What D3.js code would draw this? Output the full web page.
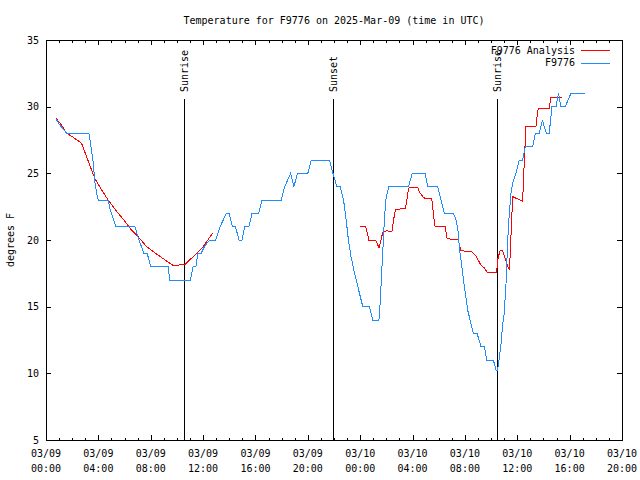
<!DOCTYPE html>
<html><head><meta charset="utf-8">
<script src="https://cdn.jsdelivr.net/npm/d3@7"></script>
<style>
body{margin:0;background:#fff;}
svg text{font-family:"DejaVu Sans Mono",monospace;font-size:10px;fill:#000;}
</style></head>
<body><svg id="c" width="640" height="480"></svg>
<script>
const title = "Temperature for F9776 on 2025-Mar-09 (time in UTC)";
const yLabel = "degrees F";
const seriesNames = ["F9776 Analysis", "F9776"];
const seriesColors = ["#ff0000", "#1e8cff"];
// hours since 2025-03-09 00:00 UTC
const obsHours = [0.76,1.0,1.58,3.28,3.41,3.61,3.74,3.95,4.0,4.75,4.9,5.1,5.34,6.79,7.1,7.48,7.73,8.0,9.33,9.46,11.03,11.24,11.45,11.6,11.85,12.1,12.5,12.97,13.3,13.78,13.98,14.24,14.47,14.75,14.98,15.18,15.5,15.74,16.25,16.5,17.98,18.23,18.69,18.94,19.2,20.0,20.26,21.66,21.92,22.22,22.48,22.73,22.93,23.1,23.3,23.57,23.82,24.2,24.71,24.97,25.43,25.48,25.6,25.73,25.86,25.99,26.19,27.7,27.97,28.96,29.16,29.92,30.18,30.43,31.12,31.33,31.5,31.58,31.7,31.96,32.21,32.65,32.93,33.23,33.49,33.67,34.17,34.38,34.5,34.74,34.87,35.0,35.14,35.27,35.39,35.52,35.65,35.9,36.16,36.41,36.61,37.17,37.38,37.68,37.93,38.03,38.24,38.44,38.65,38.96,39.15,39.33,39.66,40.1,41.17];
const obsTemps = [29.1,28.7,28,28,27.2,25.8,24.3,23.1,23,23,22.3,21.7,21,21,20,19,19,18,18,17,17,18,18,19,19,19.5,20,20,21,22,22,21,21,20,20,21,21,22,22,23,23,24,25,24,25,25,26,26,25,24,24,23,21.5,20,18.75,17.5,16.5,15,15,14,14,14.5,16.75,19.25,21.75,23.25,24,24,25,25,24,24,23,22,22,21.5,20.5,19.3,18.5,16.5,14.75,13,13,12,12,11,11,10.25,10.25,12,13.5,14.5,16.75,20,22,23.5,24.25,25,26,26,27,27,28,28,29,28.6,28,28,30,30,31,30,30,31,31];
const anaHours = [0.76,1.2,1.58,2.08,2.72,3.1,3.48,3.74,4.25,4.75,5.52,6.03,6.53,7.04,7.68,8.31,8.95,9.71,10.09,10.3,10.65,11.24,12.0,12.76,
  18.0,
  23.95,24.41,24.55,24.66,25.17,25.3,25.43,25.6,25.73,26.04,26.42,26.55,26.7,27.46,27.56,27.71,28.4,28.53,28.78,28.99,29.47,29.7,30.49,30.64,31.48,31.7,32.54,32.85,33.23,33.49,33.69,34.43,34.5,34.68,34.88,35.14,35.39,35.45,35.65,36.41,36.45,36.53,36.66,37.43,37.55,37.63,38.44,38.57,39.38];
const anaTemps = [29.13,28.6,28.0,27.7,27.25,26.25,25.25,24.6,23.75,23,22,21.4,20.75,20.25,19.5,19.05,18.6,18.1,18.1,18.2,18.2,18.75,19.5,20.55,
  null,
  21,21,20.5,20,20,19.75,19.4,20.05,20.6,20.7,20.6,21.5,22.3,22.35,23,23.9,23.95,23.6,23.25,23.1,23.1,21.05,21,20.1,20,19.2,19.1,18.8,18.1,17.9,17.6,17.57,18.5,19.2,19.2,18.4,17.75,18.75,23.25,22.9,23.9,25.75,28.5,28.55,29.6,29.9,29.9,30.7,30.7];
const sunLabels = ["Sunrise","Sunset","Sunrise"];
const sunHours = [10.55,21.92,34.43];
const yTicks = [5,10,15,20,25,30,35];
const xTickDates = ["03/09","03/09","03/09","03/09","03/09","03/09","03/10","03/10","03/10","03/10","03/10","03/10"];
const xTickTimes = ["00:00","04:00","08:00","12:00","16:00","20:00","00:00","04:00","08:00","12:00","16:00","20:00"];

const t0 = Date.UTC(2025,2,9,0,0);
const hr = h => new Date(t0 + h*3600000);
const L=46,R=622,T=40,B=440;
const svg = d3.select("#c");
const x = d3.scaleUtc().domain([hr(0),hr(44)]).range([L,R]);
const y = d3.scaleLinear().domain([5,35]).range([B,T]);

svg.append("text").attr("x",(L+R)/2).attr("y",24).attr("text-anchor","middle").text(title);
svg.append("text").attr("transform",`translate(14,${(T+B)/2}) rotate(-90)`).attr("text-anchor","middle").text(yLabel);

const majorX = xTickTimes.map((d,i)=>hr(i*4));
const minorX = d3.range(0,45).map(hr);
const g = svg.append("g").attr("shape-rendering","crispEdges");
// ticks
const ax = g.append("g").attr("transform",`translate(0,${B})`)
  .call(d3.axisBottom(x).tickValues(minorX).tickSize(-2.5).tickFormat(""));
const ax2 = g.append("g").attr("transform",`translate(0,${B})`)
  .call(d3.axisBottom(x).tickValues(majorX).tickSize(-5).tickFormat(""));
const axT = g.append("g").attr("transform",`translate(0,${T})`)
  .call(d3.axisTop(x).tickValues(minorX).tickSize(-2.5).tickFormat(""));
const axT2 = g.append("g").attr("transform",`translate(0,${T})`)
  .call(d3.axisTop(x).tickValues(majorX).tickSize(-5).tickFormat(""));
const ayL = g.append("g").attr("transform",`translate(${L},0)`)
  .call(d3.axisLeft(y).tickValues(yTicks).tickSize(-5).tickPadding(8).tickFormat(d3.format("d")));
const ayR = g.append("g").attr("transform",`translate(${R},0)`)
  .call(d3.axisRight(y).tickValues(yTicks).tickSize(-5).tickFormat(""));
[ax,ax2,axT,axT2,ayL,ayR].forEach(a=>{a.select(".domain").remove();a.selectAll("line").attr("stroke","#000");});
ayL.selectAll("text").attr("font-family","DejaVu Sans Mono").attr("font-size","10px").attr("x",-7);
g.append("rect").attr("x",L).attr("y",T).attr("width",R-L).attr("height",B-T).attr("fill","none").attr("stroke","#000");

// x tick labels two lines
const xl = svg.append("g");
majorX.forEach((d,i)=>{
  const t = xl.append("text").attr("text-anchor","middle");
  t.append("tspan").attr("x",x(d)).attr("y",457).text(xTickDates[i]);
  t.append("tspan").attr("x",x(d)).attr("y",472).text(xTickTimes[i]);
});

// sun lines
sunHours.forEach((h,i)=>{
  g.append("line").attr("x1",Math.round(x(hr(h)))+0.5).attr("x2",Math.round(x(hr(h)))+0.5)
   .attr("y1",99).attr("y2",B).attr("stroke","#000");
  svg.append("text").attr("transform",`translate(${x(hr(h))+4},92) rotate(-90)`)
   .attr("text-anchor","start").text(sunLabels[i]);
});

// series
const line = d3.line().defined(d=>d[1]!=null).x(d=>x(hr(d[0]))).y(d=>y(d[1]));
const anaData = anaHours.map((h,i)=>[h,anaTemps[i]]);
const obsData = obsHours.map((h,i)=>[h,obsTemps[i]]);
svg.append("path").datum(anaData).attr("d",line).attr("fill","none").attr("stroke",seriesColors[0]).attr("stroke-width",1).attr("shape-rendering","crispEdges");
svg.append("path").datum(obsData).attr("d",line).attr("fill","none").attr("stroke",seriesColors[1]).attr("stroke-width",1).attr("shape-rendering","crispEdges");

// legend
seriesNames.forEach((n,i)=>{
  const yy = 50 + i*12.7;
  svg.append("text").attr("x",575).attr("y",yy+3.5).attr("text-anchor","end").text(n);
  svg.append("line").attr("x1",581).attr("x2",610).attr("y1",Math.round(yy)+0.5).attr("y2",Math.round(yy)+0.5)
    .attr("stroke",seriesColors[i]).attr("shape-rendering","crispEdges");
});
</script></body></html>
